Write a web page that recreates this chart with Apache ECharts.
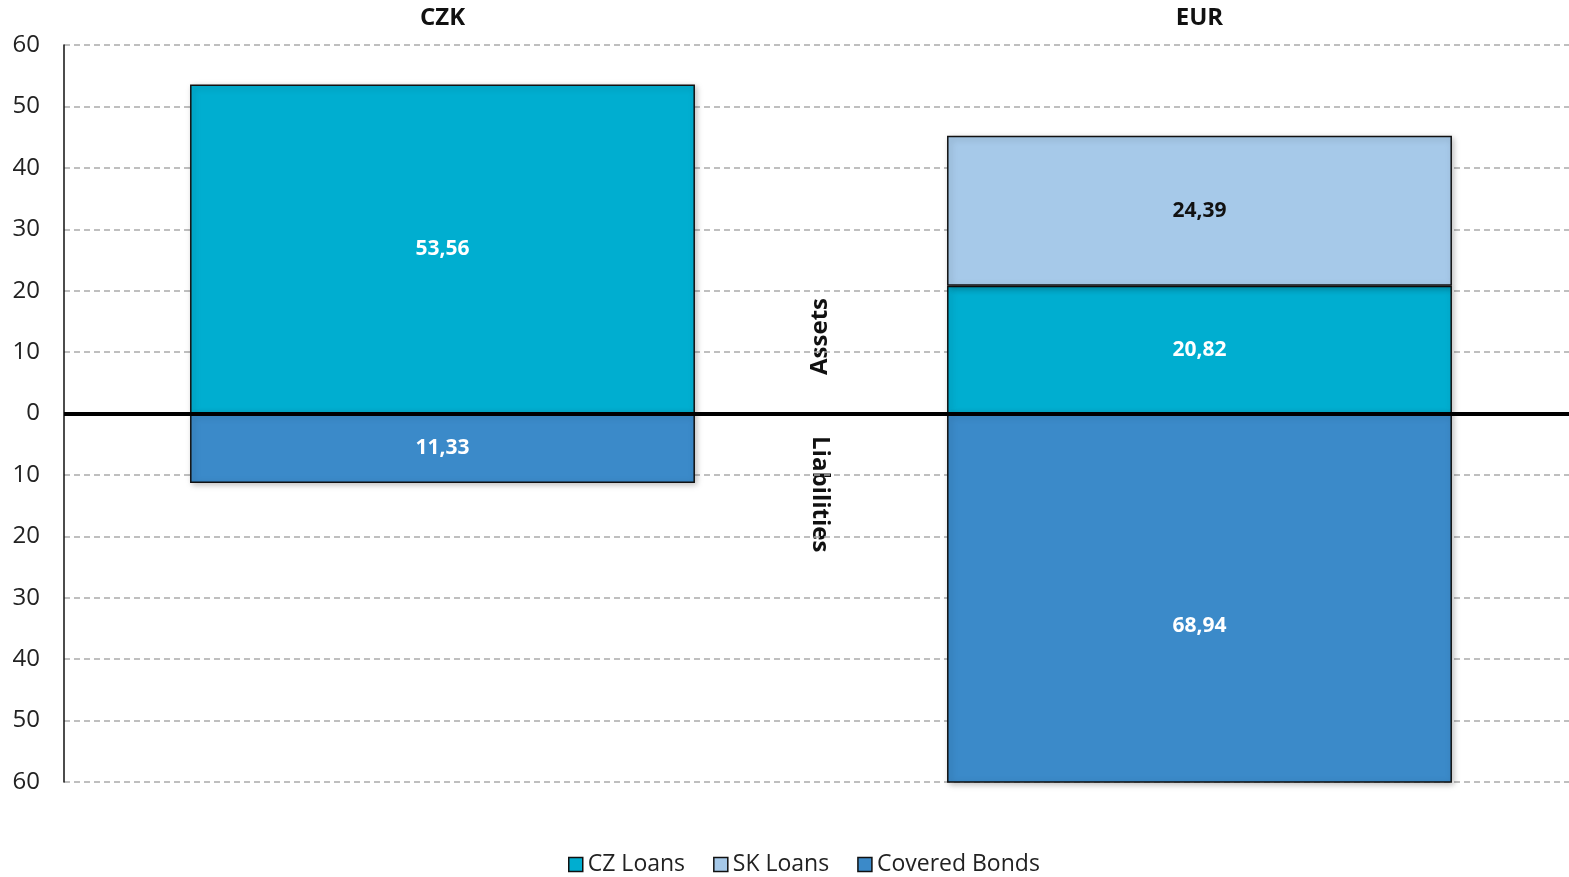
<!DOCTYPE html>
<html>
<head>
<meta charset="utf-8">
<script src="https://cdn.jsdelivr.net/npm/echarts@6/dist/echarts.min.js"></script>
<style>
  html, body { margin: 0; padding: 0; background: #fff; }
  #chart { width: 1569px; height: 877px; }
</style>
</head>
<body>
<div id="chart"></div>
<script>
  var categories = ['CZK', 'EUR'];
  var czLoans = [53.56, 20.82];
  var skLoans = [null, 24.39];
  var coveredBonds = [-11.33, -68.94];
  var yTicks = { min: -60, max: 60, step: 10 };

  var font = '"Open Sans", "DejaVu Sans", sans-serif';
  var barBorder = {
    borderColor: '#111',
    borderWidth: 1.5,
    shadowColor: 'rgba(0,0,0,0.25)',
    shadowBlur: 6,
    shadowOffsetX: 2,
    shadowOffsetY: 2
  };

  function fmt(v) {
    return Math.abs(v).toFixed(2).replace('.', ',');
  }

  function barSeries(name, data, color, textColor) {
    return {
      name: name,
      type: 'bar',
      stack: 'total',
      barWidth: '66.7%',
      data: data,
      itemStyle: Object.assign({ color: color }, barBorder),
      label: {
        show: true,
        position: 'inside',
        fontFamily: font,
        fontWeight: 'bold',
        fontSize: 21,
        color: textColor,
        formatter: function (p) { return fmt(p.value); }
      }
    };
  }

  var myChart = echarts.init(document.getElementById('chart'));

  var option = {
    animation: false,
    textStyle: { fontFamily: font },
    // the plot runs a little past the right edge of the picture
    grid: { left: 64, right: -9, top: 45, bottom: 95, outerBoundsMode: 'none', containLabel: false },
    legend: {
      top: 848,
      left: 563,
      itemWidth: 14,
      itemHeight: 14,
      itemGap: 28,
      icon: 'rect',
      textStyle: { fontSize: 23, color: '#222', fontFamily: font },
      itemStyle: { borderColor: '#111', borderWidth: 1.5 },
      data: ['CZ Loans', 'SK Loans', 'Covered Bonds']
    },
    xAxis: {
      type: 'category',
      position: 'top',
      data: categories,
      axisLine: { show: false },
      axisTick: { show: false },
      axisLabel: {
        margin: 15,
        fontSize: 24,
        fontWeight: 'bold',
        color: '#111',
        fontFamily: font
      }
    },
    yAxis: {
      type: 'value',
      min: yTicks.min,
      max: yTicks.max,
      interval: yTicks.step,
      axisLine: { show: true, onZero: false, lineStyle: { color: '#111', width: 1.5 } },
      axisTick: { show: false },
      axisLabel: {
        margin: 24,
        fontSize: 24,
        color: '#222',
        fontFamily: font,
        formatter: function (v) { return Math.abs(v); }
      },
      splitLine: { lineStyle: { color: '#aaa', type: [6, 4], width: 1.5 } }
    },
    graphic: [
      {
        type: 'text',
        left: 808,
        top: 298,
        rotation: Math.PI / 2,
        style: { text: 'Assets', fontSize: 24, fontWeight: 'bold', fill: '#111', fontFamily: font }
      },
      {
        type: 'text',
        left: 808,
        top: 436,
        rotation: -Math.PI / 2,
        style: { text: 'Liabilities', fontSize: 24, fontWeight: 'bold', fill: '#111', fontFamily: font }
      }
    ],
    series: [
      barSeries('CZ Loans', czLoans, '#00AED0', '#fff'),
      barSeries('SK Loans', skLoans, '#A6C9E9', '#111'),
      Object.assign(barSeries('Covered Bonds', coveredBonds, '#3B8AC9', '#fff'), {
        markLine: {
          silent: true,
          symbol: 'none',
          label: { show: false },
          lineStyle: { color: '#000', width: 4, type: 'solid' },
          data: [{ yAxis: 0 }]
        }
      })
    ]
  };

  myChart.setOption(option);

  // a bar cut off by the axis keeps its label at the middle of the full value
  var bondsData = coveredBonds.map(function (v, i) {
    if (v >= yTicks.min) return v;
    var fullMid = myChart.convertToPixel({ yAxisIndex: 0 }, v / 2);
    var shownMid = myChart.convertToPixel({ yAxisIndex: 0 }, yTicks.min / 2);
    return { value: v, label: { offset: [0, fullMid - shownMid] } };
  });
  myChart.setOption({ series: [{}, {}, { data: bondsData }] });
</script>
</body>
</html>
